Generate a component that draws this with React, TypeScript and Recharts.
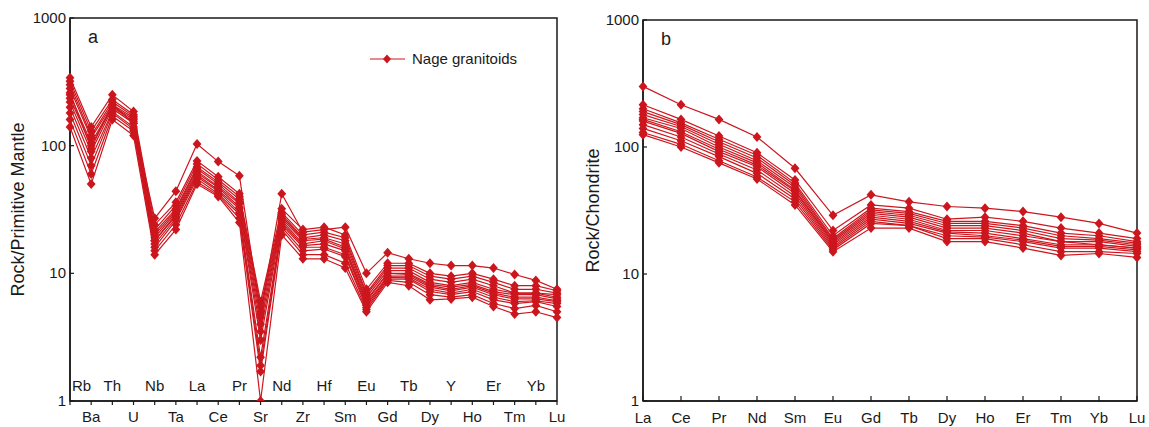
import React from "react";
import { LineChart, Line, XAxis, YAxis, ReferenceArea } from "recharts";

const RED = "#cc161e";
const INK = "#1a1a1a";
const FONT = "'Liberation Sans', Arial, sans-serif";

// Primitive-mantle normalised spider diagram
const PM_ELEMENTS = ["Rb", "Ba", "Th", "U", "Nb", "Ta", "La", "Ce", "Pr", "Sr", "Nd", "Zr", "Hf", "Sm", "Eu", "Gd", "Tb", "Dy", "Y", "Ho", "Er", "Tm", "Yb", "Lu"];

const PM_1 = [260, 95, 210, 150, 27, 44, 103, 75, 58, 4.8, 42, 21, 22, 23, 10, 14.5, 13, 12, 11.5, 11.5, 11, 9.8, 8.8, 7.5];
const PM_2 = [340, 140, 250, 185, 24, 36, 76, 57, 42, 6, 32, 22, 23, 20, 7.5, 12, 12, 10, 9.5, 10, 9, 8, 8, 7.3];
const PM_3 = [320, 130, 230, 175, 22, 34, 72, 54, 40, 5.5, 30, 20, 21, 19, 7, 11.5, 11.5, 9.5, 9, 9.5, 8.5, 7.5, 7.5, 7];
const PM_4 = [300, 120, 220, 170, 21, 32, 68, 52, 38, 5, 29, 19, 20, 18, 6.8, 11, 11, 9, 8.5, 9, 8, 7, 7, 6.8];
const PM_5 = [280, 115, 210, 165, 20, 31, 66, 50, 36, 4.5, 28, 18.5, 19, 17, 6.5, 10.5, 10.5, 8.5, 8, 8.5, 7.5, 7, 7, 6.5];
const PM_6 = [250, 105, 205, 160, 19, 30, 63, 48, 35, 4, 27, 18, 18.5, 16, 6.2, 10, 10, 8.2, 7.8, 8.2, 7.2, 6.8, 6.8, 6.3];
const PM_7 = [235, 100, 200, 155, 18, 29, 61, 47, 33, 3.5, 26, 17, 18, 15.5, 6, 10, 9.8, 8, 7.5, 8, 7, 6.5, 6.5, 6.1];
const PM_8 = [220, 90, 195, 150, 18, 28, 59, 45, 32, 3, 25, 16.5, 17, 15, 5.8, 9.5, 9.5, 7.8, 7.3, 7.8, 6.8, 6.3, 6.3, 6];
const PM_9 = [200, 80, 185, 140, 17, 27, 57, 44, 30, 2.2, 24, 16, 16, 14, 5.6, 9.3, 9.2, 7.5, 7, 7.5, 6.5, 6, 6.1, 5.8];
const PM_10 = [180, 70, 180, 135, 16, 26, 55, 42, 29, 1.9, 23, 15, 15.5, 13.5, 5.4, 9, 9, 7.2, 6.8, 7.2, 6.2, 5.8, 6, 5.5];
const PM_11 = [160, 60, 170, 130, 15, 24, 52, 41, 27, 1.7, 22, 14, 14, 12, 5.2, 8.8, 8.5, 6.8, 6.5, 6.8, 5.8, 5.3, 5.6, 5];
const PM_12 = [140, 50, 160, 120, 14, 22, 50, 40, 25, 1, 20, 13, 13, 11, 5, 8.5, 8, 6.2, 6.3, 6.5, 5.5, 4.8, 5, 4.5];
const PM_SERIES = [PM_1, PM_2, PM_3, PM_4, PM_5, PM_6, PM_7, PM_8, PM_9, PM_10, PM_11, PM_12];

// Chondrite normalised REE pattern
const CN_ELEMENTS = ["La", "Ce", "Pr", "Nd", "Sm", "Eu", "Gd", "Tb", "Dy", "Ho", "Er", "Tm", "Yb", "Lu"];

const CN_1 = [300, 215, 165, 120, 68, 29, 42, 37, 34, 33, 31, 28, 25, 21];
const CN_2 = [215, 165, 122, 90, 55, 22, 35, 33, 27, 28, 26, 23, 21, 19];
const CN_3 = [200, 155, 115, 86, 52, 20, 33, 31, 26, 26, 24, 21, 20, 18];
const CN_4 = [190, 150, 110, 82, 50, 19, 32, 30, 25, 25, 23, 20, 19, 17.5];
const CN_5 = [180, 145, 105, 78, 48, 18.5, 31, 29, 24, 24, 22, 19, 18.5, 17];
const CN_6 = [170, 140, 100, 75, 46, 18, 30, 28, 23, 23, 21, 18, 18, 16.5];
const CN_7 = [165, 132, 96, 72, 45, 17.5, 29, 27, 22, 22, 20, 18, 17, 16];
const CN_8 = [160, 128, 92, 70, 43, 17, 28, 26, 21.5, 21, 19, 17, 17, 16];
const CN_9 = [150, 120, 88, 66, 41, 16.5, 27, 25, 21, 20, 18.5, 16.5, 16.5, 15.5];
const CN_10 = [140, 112, 84, 62, 39, 16, 26, 24, 20, 19.5, 18, 16, 16, 15];
const CN_11 = [130, 105, 78, 58, 37, 15.5, 25, 24, 19, 19, 17, 15, 15, 14.5];
const CN_12 = [125, 100, 75, 56, 35, 15, 23, 23, 18, 18, 16, 14, 14.5, 13.5];
const CN_SERIES = [CN_1, CN_2, CN_3, CN_4, CN_5, CN_6, CN_7, CN_8, CN_9, CN_10, CN_11, CN_12];

const Y_TICKS = [1, 10, 100, 1000];

function buildRows(elements: string[], series: number[][]) {
  return elements.map((el, i) => {
    const row: Record<string, any> = { el };
    series.forEach((s, k) => {
      row[`s${k + 1}`] = s[i];
    });
    return row;
  });
}

const pmData = buildRows(PM_ELEMENTS, PM_SERIES);
const cnData = buildRows(CN_ELEMENTS, CN_SERIES);

const Diamond = (props: any) => {
  const { cx, cy, index, dataKey } = props;
  if (cx == null || cy == null) return <g key={`${dataKey}-${index}`} />;
  return (
    <path
      key={`${dataKey}-${index}`}
      d={`M${cx},${cy - 5} L${cx + 4.4},${cy} L${cx},${cy + 5} L${cx - 4.4},${cy} Z`}
      fill={RED}
    />
  );
};

const YTick = (props: any) => {
  const { x, y, payload } = props;
  return (
    <g>
      <line x1={x} x2={x + 4} y1={y} y2={y} stroke={INK} strokeWidth={1.2} />
      <text x={x - 4} y={y + 5} textAnchor="end" fontSize={15} fill={INK} fontFamily={FONT}>
        {payload.value}
      </text>
    </g>
  );
};

const PmTick = (props: any) => {
  const { x, y, payload, index } = props;
  const i = payload.index ?? index;
  const up = i % 2 === 0;
  // first label sits just inside the frame
  const first = i === 0;
  return (
    <g>
      <line x1={x} x2={x} y1={y} y2={y + 4} stroke={INK} strokeWidth={1.2} />
      <text
        x={first ? x + 2 : x}
        y={up ? y - 10 : y + 21}
        textAnchor={first ? "start" : "middle"}
        fontSize={15}
        fill={INK}
        fontFamily={FONT}
      >
        {payload.value}
      </text>
    </g>
  );
};

const CnTick = (props: any) => {
  const { x, y, payload } = props;
  return (
    <g>
      <line x1={x} x2={x} y1={y} y2={y - 5} stroke={INK} strokeWidth={1.2} />
      <text x={x} y={y + 22} textAnchor="middle" fontSize={15} fill={INK} fontFamily={FONT}>
        {payload.value}
      </text>
    </g>
  );
};

function Panel({
  data,
  elements,
  count,
  width,
  margin,
  yWidth,
  tick,
  label,
  labelOffset,
}: {
  data: any[];
  elements: string[];
  count: number;
  width: number;
  margin: any;
  yWidth: number;
  tick: any;
  label: string;
  labelOffset: number;
}) {
  return (
    <LineChart width={width} height={427} data={data} margin={margin}>
      <XAxis
        dataKey="el"
        type="category"
        padding={{ left: 0, right: 0 }}
        interval={0}
        height={26}
        tickSize={0}
        tickMargin={0}
        tickLine={false}
        tick={tick}
        axisLine={{ stroke: INK, strokeWidth: 1.5 }}
      />
      <YAxis
        type="number"
        scale="log"
        domain={[1, 1000]}
        ticks={Y_TICKS}
        allowDataOverflow
        width={yWidth}
        tickSize={0}
        tickMargin={0}
        tickLine={false}
        tick={<YTick />}
        axisLine={{ stroke: INK, strokeWidth: 1.5 }}
        label={{
          value: label,
          angle: -90,
          position: "insideLeft",
          offset: labelOffset,
          style: { fontSize: 18, fill: INK, fontFamily: FONT, textAnchor: "middle" },
        }}
      />
      <ReferenceArea
        x1={elements[0]}
        x2={elements[elements.length - 1]}
        y1={1}
        y2={1000}
        fill="none"
        stroke={INK}
        strokeWidth={1.5}
        ifOverflow="visible"
      />
      {Array.from({ length: count }, (_, k) => (
        <Line
          key={k}
          dataKey={`s${k + 1}`}
          stroke={RED}
          strokeWidth={1.2}
          dot={Diamond}
          activeDot={false}
          isAnimationActive={false}
        />
      ))}
    </LineChart>
  );
}

export default function App() {
  return (
    <div style={{ position: "absolute", left: 0, top: 0, width: 1149, height: 427, background: "#fff", fontFamily: FONT }}>
      <div style={{ position: "absolute", left: 0, top: 0 }}>
        <Panel
          data={pmData}
          elements={PM_ELEMENTS}
          count={PM_SERIES.length}
          width={580}
          margin={{ top: 18, right: 23, bottom: 0, left: 0 }}
          yWidth={70}
          tick={<PmTick />}
          label="Rock/Primitive Mantle"
          labelOffset={18}
        />
      </div>
      <div style={{ position: "absolute", left: 580, top: 0 }}>
        <Panel
          data={cnData}
          elements={CN_ELEMENTS}
          count={CN_SERIES.length}
          width={569}
          margin={{ top: 20, right: 12, bottom: 0, left: 0 }}
          yWidth={63}
          tick={<CnTick />}
          label="Rock/Chondrite"
          labelOffset={13}
        />
      </div>
      <div style={{ position: "absolute", left: 88, top: 27, fontSize: 18, color: INK }}>a</div>
      <div style={{ position: "absolute", left: 661, top: 29, fontSize: 18, color: INK }}>b</div>
      <svg style={{ position: "absolute", left: 365, top: 47 }} width={180} height={24}>
        <line x1={5} x2={40} y1={12} y2={12} stroke={RED} strokeWidth={1.2} />
        <path d="M22,7.5 L26,12 L22,16.5 L18,12 Z" fill={RED} />
        <text x={47} y={17} fontSize={15} fill={INK} fontFamily={FONT}>
          Nage granitoids
        </text>
      </svg>
    </div>
  );
}
